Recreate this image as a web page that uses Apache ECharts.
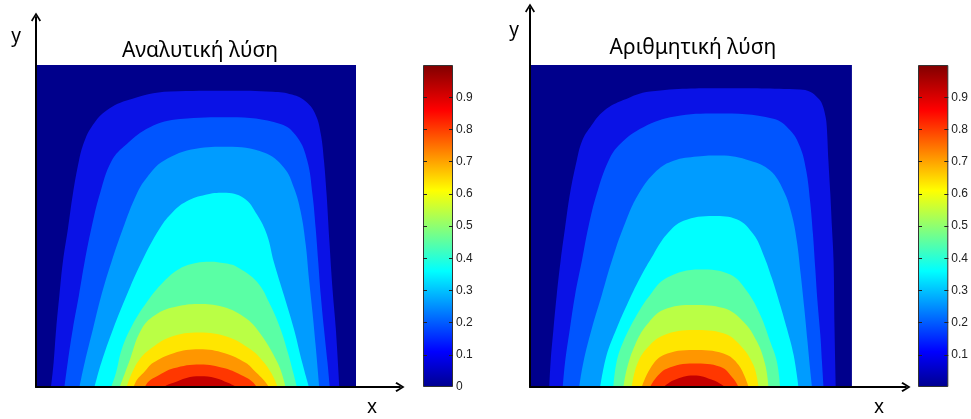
<!DOCTYPE html>
<html>
<head>
<meta charset="utf-8">
<title>contour</title>
<script src="https://cdn.jsdelivr.net/npm/echarts@6/dist/echarts.min.js"></script>
<style>
html, body { margin: 0; padding: 0; background: #fff; }
#container { width: 971px; height: 419px; }
</style>
</head>
<body>
<div id="container"></div>
<script>
// square domain of both plots (x, y from 0 to 1)
var domainTop = [[0, 1], [1, 1]];

// edges of the colour bands, outer band first
// every edge is [x, y] from the left foot over the top to the right foot
var analyticEdges = [
    [[0.047,0],[0.055,0.075],[0.063,0.18],[0.073,0.284],[0.084,0.389],[0.1,0.493],[0.115,0.598],[0.134,0.702],[0.15,0.76],[0.173,0.807],[0.215,0.855],[0.283,0.89],[0.42,0.918],[0.6,0.92],[0.74,0.917],[0.8,0.908],[0.845,0.885],[0.874,0.845],[0.89,0.786],[0.9,0.702],[0.908,0.6],[0.917,0.45],[0.927,0.3],[0.937,0.18],[0.948,0]],
    [[0.089,0],[0.099,0.075],[0.115,0.18],[0.134,0.284],[0.152,0.389],[0.173,0.493],[0.199,0.598],[0.236,0.702],[0.283,0.754],[0.356,0.807],[0.45,0.832],[0.607,0.838],[0.764,0.817],[0.817,0.775],[0.848,0.702],[0.864,0.598],[0.874,0.493],[0.882,0.389],[0.89,0.284],[0.9,0.18],[0.911,0.075],[0.918,0]],
    [[0.136,0],[0.152,0.075],[0.178,0.18],[0.204,0.284],[0.236,0.389],[0.272,0.493],[0.314,0.598],[0.346,0.65],[0.398,0.702],[0.5,0.74],[0.597,0.746],[0.712,0.728],[0.775,0.681],[0.806,0.619],[0.827,0.545],[0.843,0.441],[0.853,0.336],[0.864,0.232],[0.874,0.127],[0.885,0]],
    [[0.183,0],[0.204,0.075],[0.241,0.18],[0.283,0.284],[0.33,0.389],[0.387,0.493],[0.429,0.545],[0.471,0.577],[0.53,0.597],[0.586,0.603],[0.649,0.587],[0.691,0.535],[0.722,0.472],[0.743,0.389],[0.775,0.284],[0.806,0.18],[0.832,0.075],[0.853,0]],
    [[0.235,0],[0.25,0.044],[0.268,0.117],[0.3,0.19],[0.346,0.263],[0.398,0.326],[0.45,0.368],[0.5,0.385],[0.545,0.389],[0.59,0.384],[0.628,0.373],[0.691,0.326],[0.733,0.253],[0.764,0.18],[0.787,0.107],[0.805,0.04],[0.815,0]],
    [[0.262,0],[0.29,0.075],[0.33,0.18],[0.38,0.228],[0.45,0.252],[0.51,0.258],[0.58,0.25],[0.64,0.224],[0.69,0.18],[0.755,0.075],[0.78,0]],
    [[0.283,0],[0.3,0.044],[0.323,0.085],[0.356,0.117],[0.42,0.155],[0.51,0.169],[0.6,0.155],[0.67,0.117],[0.705,0.085],[0.735,0.044],[0.755,0]],
    [[0.305,0],[0.316,0.023],[0.337,0.045],[0.366,0.075],[0.43,0.105],[0.51,0.117],[0.59,0.105],[0.655,0.075],[0.688,0.045],[0.71,0.023],[0.728,0]],
    [[0.34,0],[0.352,0.017],[0.378,0.033],[0.43,0.058],[0.513,0.07],[0.59,0.058],[0.649,0.033],[0.675,0.017],[0.69,0]],
    [[0.4,0],[0.41,0.006],[0.43,0.013],[0.47,0.028],[0.513,0.033],[0.56,0.028],[0.6,0.013],[0.615,0.006],[0.628,0]]
];

var numericEdges = [
    [[0.06,0],[0.064,0.078],[0.073,0.182],[0.083,0.286],[0.095,0.391],[0.109,0.495],[0.124,0.599],[0.145,0.703],[0.162,0.765],[0.187,0.807],[0.23,0.858],[0.29,0.891],[0.373,0.918],[0.6,0.928],[0.839,0.924],[0.87,0.917],[0.895,0.897],[0.907,0.88],[0.918,0.84],[0.922,0.807],[0.927,0.703],[0.933,0.599],[0.938,0.495],[0.943,0.391],[0.946,0.182],[0.95,0]],
    [[0.102,0],[0.109,0.078],[0.124,0.182],[0.14,0.286],[0.161,0.391],[0.181,0.495],[0.207,0.599],[0.244,0.703],[0.28,0.755],[0.352,0.807],[0.45,0.84],[0.58,0.849],[0.756,0.833],[0.808,0.797],[0.839,0.745],[0.858,0.672],[0.87,0.578],[0.879,0.474],[0.886,0.37],[0.893,0.266],[0.902,0.161],[0.907,0.078],[0.912,0]],
    [[0.153,0],[0.166,0.078],[0.192,0.182],[0.223,0.286],[0.254,0.391],[0.29,0.495],[0.337,0.599],[0.394,0.672],[0.446,0.703],[0.52,0.716],[0.591,0.719],[0.684,0.703],[0.746,0.672],[0.788,0.609],[0.813,0.536],[0.829,0.453],[0.841,0.349],[0.852,0.245],[0.862,0.141],[0.87,0.057],[0.876,0]],
    [[0.218,0],[0.238,0.099],[0.269,0.182],[0.301,0.255],[0.342,0.339],[0.383,0.411],[0.425,0.474],[0.477,0.516],[0.57,0.531],[0.642,0.521],[0.694,0.474],[0.725,0.411],[0.751,0.339],[0.777,0.255],[0.798,0.182],[0.819,0.099],[0.834,0]],
    [[0.259,0],[0.269,0.078],[0.29,0.141],[0.332,0.224],[0.373,0.286],[0.425,0.339],[0.528,0.365],[0.622,0.349],[0.674,0.297],[0.715,0.224],[0.746,0.141],[0.767,0.078],[0.777,0]],
    [[0.29,0],[0.301,0.057],[0.326,0.13],[0.363,0.193],[0.415,0.24],[0.508,0.255],[0.601,0.245],[0.663,0.203],[0.705,0.141],[0.731,0.068],[0.741,0]],
    [[0.316,0],[0.332,0.068],[0.363,0.12],[0.415,0.161],[0.508,0.177],[0.601,0.167],[0.653,0.13],[0.694,0.068],[0.71,0]],
    [[0.347,0],[0.373,0.057],[0.415,0.099],[0.508,0.115],[0.601,0.104],[0.648,0.068],[0.679,0]],
    [[0.373,0],[0.389,0.026],[0.425,0.057],[0.508,0.073],[0.591,0.063],[0.632,0.026],[0.648,0]],
    [[0.415,0],[0.446,0.021],[0.508,0.036],[0.57,0.021],[0.606,0]]
];

var colorbarTicks = [0, 0.1, 0.2, 0.3, 0.4, 0.5, 0.6, 0.7, 0.8, 0.9];
var colorbarMax = 1;
var titles = ['Αναλυτική λύση', 'Αριθμητική λύση'];

// ---- style ----
var bandColors = ['#00008c', '#0a12e6', '#0055ff', '#009cff', '#00ffff', '#5affa5',
                  '#baff45', '#ffe600', '#ff9600', '#ff3700', '#c40000'];
var jet = [[0, '#00008f'], [0.11, '#0000ff'], [0.36, '#00ffff'], [0.61, '#ffff00'], [0.86, '#ff0000'], [1, '#800000']];
var arrowHead = 'path://M5,0 L10,8 L8.6,9.2 L5,3 L1.4,9.2 L0,8 Z';
var font = 'Noto Sans';

var myChart = echarts.init(document.getElementById('container'));

function plotAxes(grid, xMax, yMax) {
    var line = { show: true, onZero: false, symbol: ['none', arrowHead], symbolSize: [10, 10],
                 lineStyle: { color: '#000', width: 2 } };
    return {
        x: { type: 'value', gridIndex: grid, min: 0, max: xMax, z: 10, axisLine: line,
             axisTick: { show: false }, axisLabel: { show: false }, splitLine: { show: false } },
        y: { type: 'value', gridIndex: grid, min: 0, max: yMax, z: 10, axisLine: line,
             axisTick: { show: false }, axisLabel: { show: false }, splitLine: { show: false } }
    };
}

function barAxes(grid, showZero) {
    var tick = { show: true, inside: true, length: 4, customValues: colorbarTicks.slice(1),
                 lineStyle: { color: '#222', width: 1 } };
    return {
        x: { type: 'category', gridIndex: grid, data: ['c'], show: false },
        left: { type: 'value', gridIndex: grid, min: 0, max: colorbarMax, position: 'left', z: 10,
                axisLine: { show: false }, axisTick: tick, axisLabel: { show: false }, splitLine: { show: false } },
        right: { type: 'value', gridIndex: grid, min: 0, max: colorbarMax, position: 'right', z: 10,
                 axisLine: { show: false }, axisTick: tick, splitLine: { show: false },
                 axisLabel: { show: true, margin: 3, color: '#222', fontSize: 12, fontFamily: 'Liberation Sans',
                              customValues: showZero ? colorbarTicks : colorbarTicks.slice(1),
                              formatter: function (v) { return String(Math.round(v * 10) / 10); } } }
    };
}

function contourSeries(edges, xIdx, yIdx) {
    var list = [{
        type: 'line', xAxisIndex: xIdx, yAxisIndex: yIdx, data: domainTop,
        symbol: 'none', silent: true, lineStyle: { opacity: 0 },
        areaStyle: { color: bandColors[0], opacity: 1 }
    }];
    edges.forEach(function (edge, i) {
        list.push({
            type: 'line', xAxisIndex: xIdx, yAxisIndex: yIdx, data: edge,
            symbol: 'none', silent: true, smooth: 0.4,
            lineStyle: { opacity: 0 },
            areaStyle: { color: bandColors[i + 1], opacity: 1 }
        });
    });
    return list;
}

function colorbarSeries(xIdx, yIdx) {
    return {
        type: 'bar', xAxisIndex: xIdx, yAxisIndex: yIdx, data: [colorbarMax], barWidth: '100%',
        silent: true,
        itemStyle: {
            borderColor: '#333', borderWidth: 1,
            color: new echarts.graphic.LinearGradient(0, 1, 0, 0, jet.map(function (s) {
                return { offset: s[0], color: s[1] };
            }))
        }
    };
}

var p1 = plotAxes(0, 1.1375, 1.149);
var p2 = plotAxes(2, 1.168, 1.177);
var b1 = barAxes(1, true);
var b2 = barAxes(3, false);

function label(text, x, y, size) {
    return { type: 'text', x: x, y: y,
             style: { text: text, font: size + 'px "' + font + '"', fill: '#000', align: 'center', verticalAlign: 'middle' } };
}

var option = {
    animation: false,
    grid: [
        { left: 36, top: 17, width: 364, height: 370 },
        { left: 423, top: 65, width: 30, height: 322 },
        { left: 530, top: 8, width: 376, height: 379 },
        { left: 918, top: 65, width: 32, height: 322 }
    ],
    xAxis: [p1.x, b1.x, p2.x, b2.x],
    yAxis: [p1.y, b1.left, b1.right, p2.y, b2.left, b2.right],
    series: []
        .concat(contourSeries(analyticEdges, 0, 0))
        .concat([colorbarSeries(1, 2)])
        .concat(contourSeries(numericEdges, 2, 3))
        .concat([colorbarSeries(3, 5)]),
    graphic: [
        label(titles[0], 200, 51, 21),
        label(titles[1], 693, 48, 21),
        label('y', 16, 37, 19),
        label('y', 514, 31, 19),
        label('x', 372, 408, 19),
        label('x', 879, 408, 19)
    ]
};
myChart.setOption(option);
</script>
</body>
</html>
